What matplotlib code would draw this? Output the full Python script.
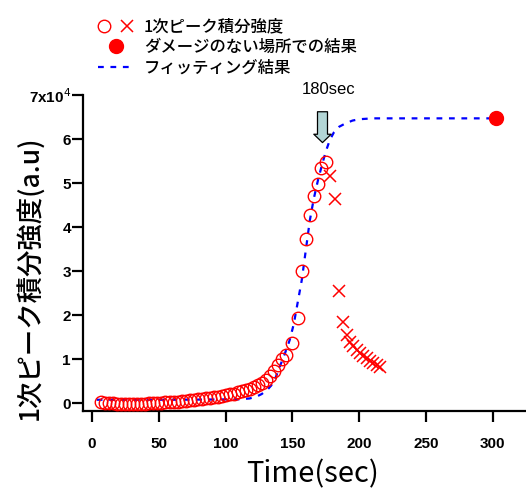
import matplotlib
matplotlib.use('Agg')
import matplotlib.pyplot as plt
from matplotlib.legend_handler import HandlerTuple
from matplotlib.ticker import FuncFormatter

plt.rcParams['font.family'] = ['Noto Sans CJK JP', 'DejaVu Sans']

# 1st peak integrated intensity (before damage -> circles)
circle_t = [7, 10, 13, 16, 19, 22, 25, 28, 31, 34, 37, 40, 43, 46, 49, 52, 55, 58, 61, 64,
            67, 70, 73, 76, 79, 82, 85, 88, 91, 94, 97, 100, 103, 106, 109, 112, 115, 118, 121, 124,
            127, 130, 133, 136, 139, 142, 145, 150, 154, 157, 160, 163, 166, 169, 171.5, 175]
circle_v = [300, 100, 0, 0, -100, -100, -100, -100, -100, -100, -100, -100, 0, 0, 0, 100, 200, 300, 300, 400,
            500, 600, 700, 800, 900, 1000, 1100, 1200, 1400, 1500, 1700, 1900, 2000, 2200, 2500, 2800, 3000, 3300, 3700, 4100,
            4700, 5300, 6200, 7300, 8700, 10000, 11000, 13700, 19300, 30000, 37300, 42800, 47000, 49800, 53400, 54700]

# after 180 sec (crosses)
cross_t = [178, 181.5, 184.5, 187.5, 190.5, 193, 195.5, 198, 200.5, 203, 205.5, 208, 210.5, 213, 215.5]
cross_v = [51700, 46400, 25500, 18500, 15500, 14000, 12900, 12000, 11400, 10800, 10200, 9700, 9200, 8700, 8300]

# undamaged area
ref_t = [302]
ref_v = [64700]

# fitting curve
fit_t = [3.5, 60, 110, 118, 123, 127, 131, 134, 137, 141, 144, 148, 151, 154, 157, 159, 161, 163,
         166, 169, 172, 175, 178, 181, 185, 190, 195, 200, 210, 300]
fit_v = [800, 800, 900, 1100, 1500, 2100, 3000, 4000, 5500, 8700, 11000, 14400, 18000, 23000, 28000, 32500, 37000, 41500,
         46500, 50500, 54000, 57200, 59800, 61500, 62800, 63600, 64200, 64500, 64700, 64700]

xticks = [0, 50, 100, 150, 200, 250, 300]
yticks = [0, 10000, 20000, 30000, 40000, 50000, 60000, 70000]

red = '#ff0000'
blue = '#0000ff'

fig = plt.figure(figsize=(5.26, 4.88), dpi=100)
ax = fig.add_axes([0.1584, 0.1578, 1 - 0.1584, 0.8053 - 0.1578])

fit_line, = ax.plot(fit_t, fit_v, color=blue, lw=1.6, dashes=(2.6, 3.0), zorder=2)
circles, = ax.plot(circle_t, circle_v, 'o', ms=9, mfc='none', mec=red, mew=1.0, zorder=3)
crosses, = ax.plot(cross_t, cross_v, 'x', ms=9, color=red, mew=1.1, zorder=3)
ref_pt, = ax.plot(ref_t, ref_v, 'o', ms=10, color=red, zorder=4)

# arrow marking 180 sec
ax.annotate('', xy=(172.5, 59200), xytext=(172.5, 66200),
            arrowprops=dict(arrowstyle='simple,head_length=0.6,head_width=1.25,tail_width=0.72',
                            mutation_scale=10, fc='#b3d6d6', ec='black', lw=0.9,
                            shrinkA=0, shrinkB=0))
ax.text(177.4, 71200, '180sec', ha='center', va='center', fontsize=12,
        family=['Liberation Sans'])

ax.set_xlim(-6.5, 324.8)
ax.set_ylim(-1750, 70000)
ax.set_xticks(xticks)
ax.set_yticks(yticks)


def fmt_y(v, pos):
    n = int(round(v / 10000))
    if n == 7:
        return '7x10$^{4}$'
    return str(n)


ax.yaxis.set_major_formatter(FuncFormatter(fmt_y))
for s in ['top', 'right']:
    ax.spines[s].set_visible(False)
for s in ['left', 'bottom']:
    ax.spines[s].set_linewidth(1.6)
ax.tick_params(axis='both', direction='out', length=8, width=1.6)
ax.tick_params(axis='x', pad=11)
ax.tick_params(axis='y', pad=1)
for lab in ax.get_xticklabels() + ax.get_yticklabels():
    lab.set_family(['Liberation Sans'])
    lab.set_fontweight('bold')
    lab.set_fontsize(11)

ax.set_xlabel('Time(sec)', fontsize=21, va='center')
ax.xaxis.set_label_coords(0.518, -0.2)
ax.set_ylabel('1次ピーク積分強度(a.u)', fontsize=19, fontweight='medium')
ax.yaxis.set_label_coords(-0.09, 0.4225)

fig.legend([(circles, crosses), ref_pt, fit_line],
           ['1次ピーク積分強度', 'ダメージのない場所での結果', 'フィッティング結果'],
           handler_map={tuple: HandlerTuple(ndivide=None, pad=0.6)},
           loc='upper left', bbox_to_anchor=(0.186, 0.962), frameon=False,
           prop={'size': 11.8, 'weight': 'medium'}, borderpad=0, borderaxespad=0,
           handlelength=2.2, handletextpad=0.6, labelspacing=0.22)

fig.savefig('out.png', dpi=100)
